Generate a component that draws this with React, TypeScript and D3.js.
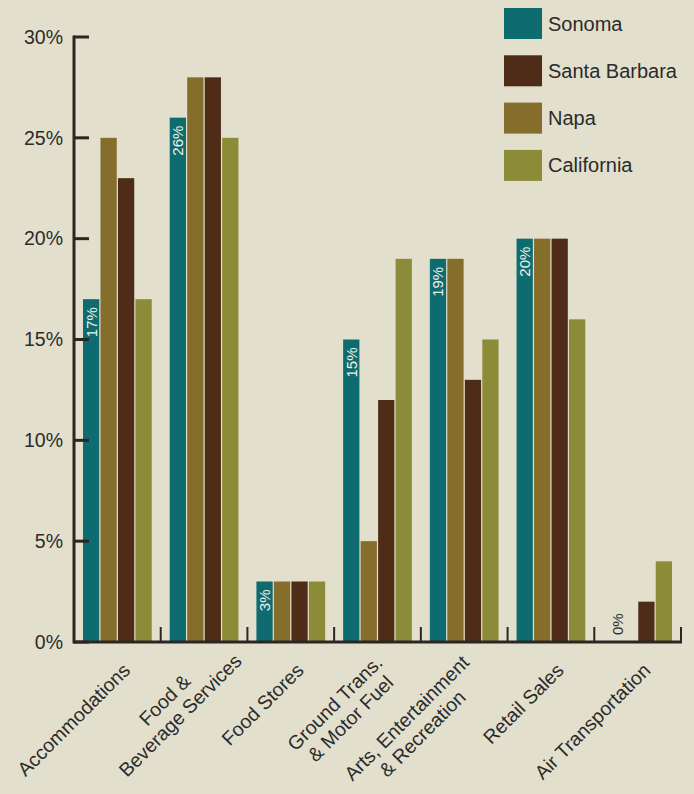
import React, { useEffect, useRef } from "react";
import * as d3 from "d3";

const WIDTH = 694;
const HEIGHT = 794;

const CATEGORIES: string[][] = [
  ["Accommodations"],
  ["Food &", "Beverage Services"],
  ["Food Stores"],
  ["Ground Trans.", "& Motor Fuel"],
  ["Arts, Entertainment", "& Recreation"],
  ["Retail Sales"],
  ["Air Transportation"],
];

const SONOMA = [17, 26, 3, 15, 19, 20, 0];
const SANTA_BARBARA = [23, 28, 3, 12, 13, 20, 2];
const NAPA = [25, 28, 3, 5, 19, 20, 0];
const CALIFORNIA = [17, 25, 3, 19, 15, 16, 4];

const LEGEND_ORDER = ["Sonoma", "Santa Barbara", "Napa", "California"];
const BAR_ORDER = ["Sonoma", "Napa", "Santa Barbara", "California"];
const SERIES_VALUES: Record<string, number[]> = {
  Sonoma: SONOMA,
  "Santa Barbara": SANTA_BARBARA,
  Napa: NAPA,
  California: CALIFORNIA,
};
const COLORS: Record<string, string> = {
  Sonoma: "#0e6b70",
  "Santa Barbara": "#4f2c17",
  Napa: "#856d2c",
  California: "#8b8b38",
};
const LABELLED_SERIES = "Sonoma";

const Y_TICKS = [0, 5, 10, 15, 20, 25, 30];
const Y_MAX = 30;

// small layout nudge (along the rotated text direction) for the category labels
const LABEL_NUDGE = [0, 24, 0, 0, 0, 0, 0];

const BG = "#e2dfcd";
const INK = "#2a2623";
const TEXT = "#2b2b2b";
const FONT = "'Liberation Sans', Arial, Helvetica, sans-serif";

export default function App() {
  const ref = useRef<SVGSVGElement | null>(null);

  useEffect(() => {
    document.body.style.margin = "0";
    const svg = d3.select(ref.current);
    svg.selectAll("*").remove();

    svg.append("rect").attr("width", WIDTH).attr("height", HEIGHT).attr("fill", BG);

    const left = 74;
    const right = 681;
    const base = 642;
    const top = 37;

    const x0 = d3
      .scaleBand<number>()
      .domain(CATEGORIES.map((_, i) => i))
      .range([left, right]);
    const x1 = d3
      .scaleBand<string>()
      .domain(BAR_ORDER)
      .range([9, x0.bandwidth() - 9])
      .paddingInner(0.07);
    const y = d3.scaleLinear().domain([0, Y_MAX]).range([base, top]);

    // bars
    const groups = svg
      .append("g")
      .selectAll("g")
      .data(CATEGORIES.map((_, i) => i))
      .join("g")
      .attr("transform", (i) => `translate(${x0(i)},0)`);

    groups
      .selectAll("rect")
      .data((i) => BAR_ORDER.map((s) => ({ s, v: SERIES_VALUES[s][i] })))
      .join("rect")
      .attr("x", (d) => x1(d.s)!)
      .attr("y", (d) => y(d.v))
      .attr("width", x1.bandwidth())
      .attr("height", (d) => base - y(d.v))
      .attr("fill", (d) => COLORS[d.s]);

    // value labels on Sonoma bars
    groups.each(function (i) {
      const v = SERIES_VALUES[LABELLED_SERIES][i];
      const cx = x1(LABELLED_SERIES)! + x1.bandwidth() / 2;
      const inside = base - y(v) > 40;
      const ty = inside ? y(v) + 8 : base - 7;
      d3.select(this)
        .append("text")
        .attr("transform", `translate(${cx},${ty}) rotate(-90)`)
        .attr("text-anchor", inside ? "end" : "start")
        .attr("dy", inside ? "0.36em" : "0.8em")
        .attr("font-family", FONT)
        .attr("font-size", 15)
        .attr("fill", inside ? "#f2f0e4" : TEXT)
        .text(`${v}%`);
    });

    // y axis
    const yAxis = svg.append("g");
    yAxis
      .append("line")
      .attr("x1", left)
      .attr("x2", left)
      .attr("y1", y(Y_MAX) - 1.5)
      .attr("y2", base + 1.5)
      .attr("stroke", INK)
      .attr("stroke-width", 3);
    Y_TICKS.forEach((t) => {
      yAxis
        .append("line")
        .attr("x1", left)
        .attr("x2", left + 15)
        .attr("y1", y(t))
        .attr("y2", y(t))
        .attr("stroke", INK)
        .attr("stroke-width", 3);
      yAxis
        .append("text")
        .attr("x", 63)
        .attr("y", y(t))
        .attr("dy", "0.35em")
        .attr("text-anchor", "end")
        .attr("font-family", FONT)
        .attr("font-size", 19.5)
        .attr("fill", TEXT)
        .text(`${t}%`);
    });

    // x axis
    const xAxis = svg.append("g");
    xAxis
      .append("line")
      .attr("x1", left)
      .attr("x2", right + 1)
      .attr("y1", base)
      .attr("y2", base)
      .attr("stroke", INK)
      .attr("stroke-width", 3);
    CATEGORIES.forEach((_, i) => {
      const bx = x0(i)! + x0.bandwidth();
      xAxis
        .append("line")
        .attr("x1", bx)
        .attr("x2", bx)
        .attr("y1", base)
        .attr("y2", base - 15)
        .attr("stroke", INK)
        .attr("stroke-width", 2);
    });

    // category labels
    CATEGORIES.forEach((lines, i) => {
      const g = xAxis
        .append("g")
        .attr("transform", `translate(${x0(i)! + x0.bandwidth() / 2},${base}) rotate(-45)`);
      const texts = lines.map((line) =>
        g
          .append("text")
          .attr("text-anchor", "middle")
          .attr("dy", "0.35em")
          .attr("font-family", FONT)
          .attr("font-size", 19.5)
          .attr("fill", TEXT)
          .text(line)
      );
      const widths = texts.map((t) => (t.node() as SVGTextElement).getComputedTextLength());
      const maxW = d3.max(widths) || 0;
      const n = lines.length;
      texts.forEach((t, j) => {
        t.attr("x", -11 + LABEL_NUDGE[i] - maxW / 2).attr("y", 24 + (j - (n - 1) / 2) * 22);
      });
    });

    // legend
    const legend = svg.append("g");
    LEGEND_ORDER.forEach((s, i) => {
      const ly = 8 + i * 47.3;
      legend
        .append("rect")
        .attr("x", 504)
        .attr("y", ly)
        .attr("width", 38)
        .attr("height", 31)
        .attr("fill", COLORS[s]);
      legend
        .append("text")
        .attr("x", 548)
        .attr("y", ly + 15.5)
        .attr("dy", "0.35em")
        .attr("font-family", FONT)
        .attr("font-size", 20)
        .attr("fill", TEXT)
        .text(s);
    });
  }, []);

  return <svg ref={ref} width={WIDTH} height={HEIGHT} style={{ display: "block" }} />;
}
